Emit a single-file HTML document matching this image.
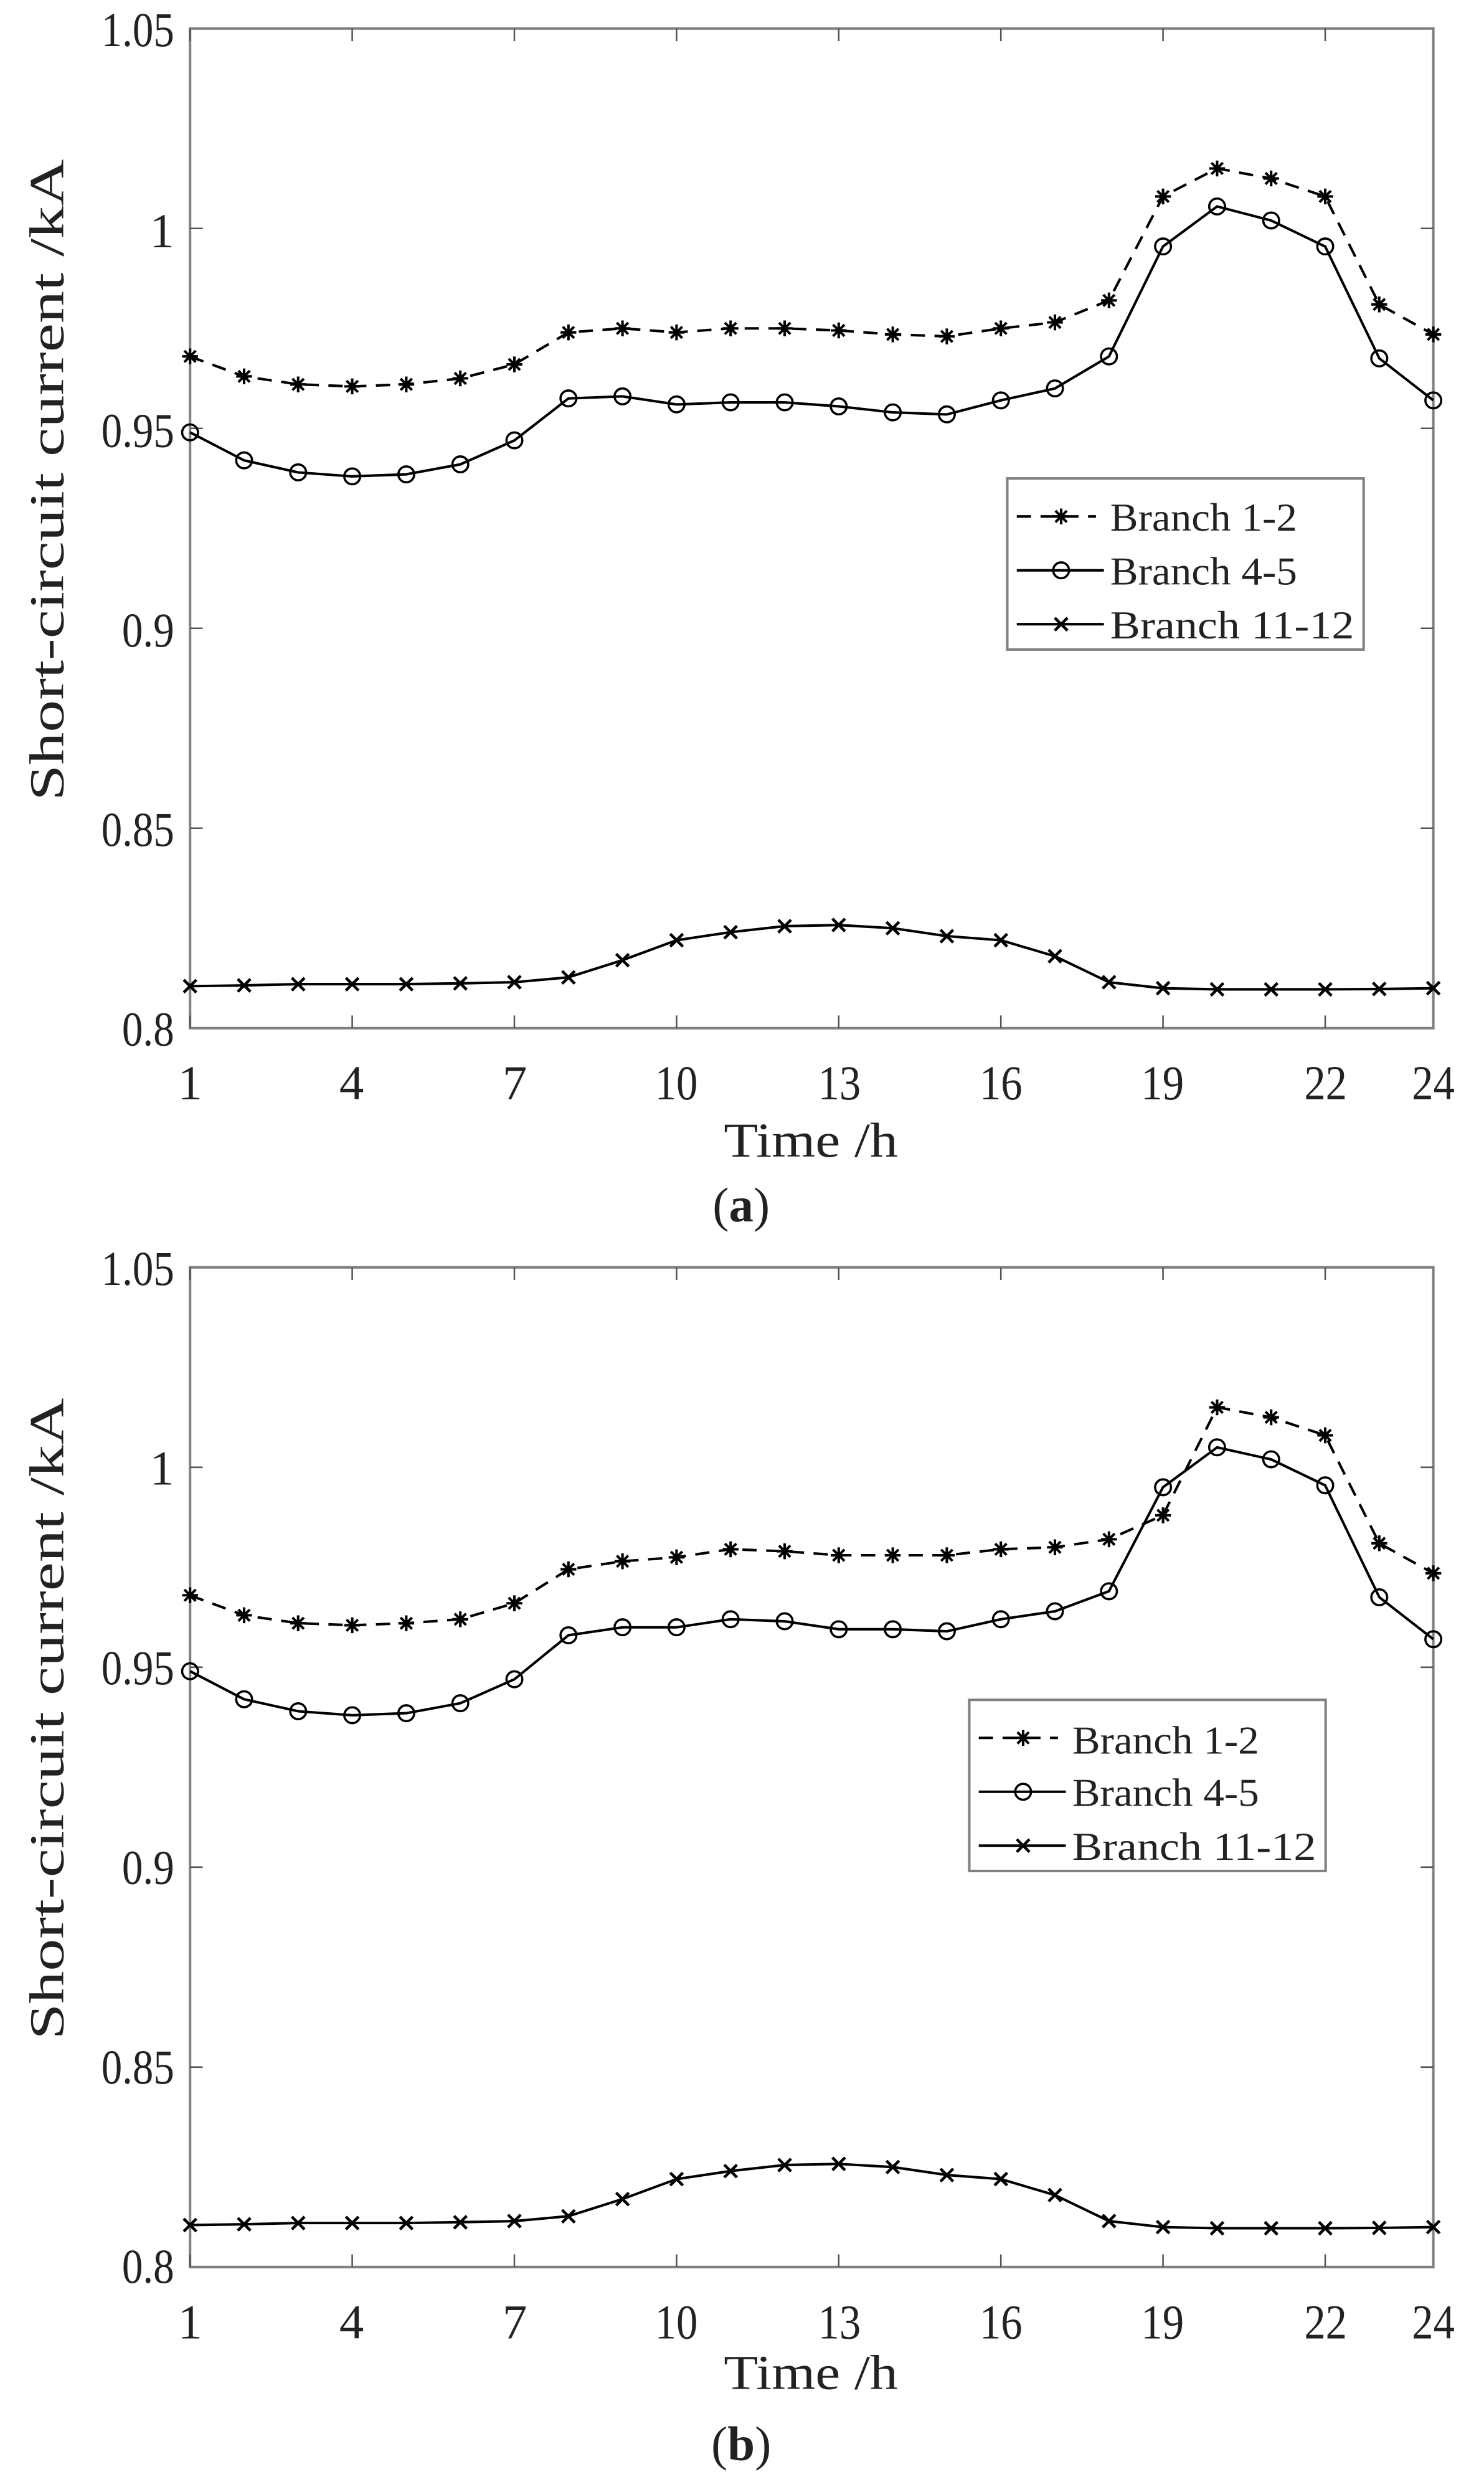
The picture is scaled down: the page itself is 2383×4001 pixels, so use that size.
<!DOCTYPE html>
<html><head><meta charset="utf-8"><style>
html,body{margin:0;padding:0;background:#fff}
svg{display:block}
text{font-family:"Liberation Serif",serif;fill:#222}
</style></head><body>
<svg id="s" width="2383" height="4001" viewBox="0 0 937 1573" preserveAspectRatio="none" xmlns="http://www.w3.org/2000/svg">
<rect width="937" height="1573" fill="#fff"/>
<g id="ga"></g><g id="gb"></g>
<!-- (a) labels -->
<g font-size="31" text-anchor="end">
<text x="110" y="29" textLength="46" lengthAdjust="spacingAndGlyphs">1.05</text>
<text x="110" y="156">1</text>
<text x="110" y="282" textLength="46" lengthAdjust="spacingAndGlyphs">0.95</text>
<text x="110" y="408" textLength="33" lengthAdjust="spacingAndGlyphs">0.9</text>
<text x="110" y="534" textLength="46" lengthAdjust="spacingAndGlyphs">0.85</text>
<text x="110" y="660" textLength="33" lengthAdjust="spacingAndGlyphs">0.8</text>
</g>
<g font-size="31" text-anchor="middle">
<text x="120" y="694">1</text><text x="222" y="694">4</text><text x="325" y="694">7</text>
<text x="427" y="694" textLength="27" lengthAdjust="spacingAndGlyphs">10</text><text x="530" y="694" textLength="27" lengthAdjust="spacingAndGlyphs">13</text>
<text x="632" y="694" textLength="27" lengthAdjust="spacingAndGlyphs">16</text><text x="734" y="694" textLength="27" lengthAdjust="spacingAndGlyphs">19</text>
<text x="837" y="694" textLength="27" lengthAdjust="spacingAndGlyphs">22</text><text x="905" y="694" textLength="27" lengthAdjust="spacingAndGlyphs">24</text>
<text x="512" y="730" textLength="110" lengthAdjust="spacingAndGlyphs">Time /h</text>
<text x="468" y="771">(<tspan font-weight="bold">a</tspan>)</text>
<text transform="translate(40,303) rotate(-90)" textLength="405" lengthAdjust="spacingAndGlyphs">Short-circuit current /kA</text>
</g>
<!-- (b) labels -->
<g font-size="31" text-anchor="end">
<text x="110" y="811" textLength="46" lengthAdjust="spacingAndGlyphs">1.05</text>
<text x="110" y="937">1</text>
<text x="110" y="1063" textLength="46" lengthAdjust="spacingAndGlyphs">0.95</text>
<text x="110" y="1189" textLength="33" lengthAdjust="spacingAndGlyphs">0.9</text>
<text x="110" y="1315" textLength="46" lengthAdjust="spacingAndGlyphs">0.85</text>
<text x="110" y="1441" textLength="33" lengthAdjust="spacingAndGlyphs">0.8</text>
</g>
<g font-size="31" text-anchor="middle">
<text x="120" y="1476">1</text><text x="222" y="1476">4</text><text x="325" y="1476">7</text>
<text x="427" y="1476" textLength="27" lengthAdjust="spacingAndGlyphs">10</text><text x="530" y="1476" textLength="27" lengthAdjust="spacingAndGlyphs">13</text>
<text x="632" y="1476" textLength="27" lengthAdjust="spacingAndGlyphs">16</text><text x="734" y="1476" textLength="27" lengthAdjust="spacingAndGlyphs">19</text>
<text x="837" y="1476" textLength="27" lengthAdjust="spacingAndGlyphs">22</text><text x="905" y="1476" textLength="27" lengthAdjust="spacingAndGlyphs">24</text>
<text x="512" y="1508" textLength="110" lengthAdjust="spacingAndGlyphs">Time /h</text>
<text x="468" y="1553">(<tspan font-weight="bold">b</tspan>)</text>
<text transform="translate(40,1085) rotate(-90)" textLength="405" lengthAdjust="spacingAndGlyphs">Short-circuit current /kA</text>
</g>
<!-- legends -->
<g font-size="25">
<text x="701" y="335" textLength="118" lengthAdjust="spacingAndGlyphs">Branch 1-2</text>
<text x="701" y="369" textLength="118" lengthAdjust="spacingAndGlyphs">Branch 4-5</text>
<text x="701" y="403" textLength="154" lengthAdjust="spacingAndGlyphs">Branch 11-12</text>
<text x="677" y="1107" textLength="118" lengthAdjust="spacingAndGlyphs">Branch 1-2</text>
<text x="677" y="1140" textLength="118" lengthAdjust="spacingAndGlyphs">Branch 4-5</text>
<text x="677" y="1174" textLength="154" lengthAdjust="spacingAndGlyphs">Branch 11-12</text>
</g>
</svg>
<script>
var NS="http://www.w3.org/2000/svg";
function el(p,t,a){var e=document.createElementNS(NS,t);for(var k in a)e.setAttribute(k,a[k]);p.appendChild(e);return e;}
var L=120,R=905;
function X(h){return L+(h-1)*(R-L)/23;}
var b12a=[.968,.963,.961,.9605,.961,.9625,.966,.974,.975,.974,.975,.975,.9745,.9735,.973,.975,.9765,.982,1.008,1.015,1.0125,1.008,.981,.9735];
var b45a=[.949,.942,.939,.938,.9385,.941,.947,.9575,.958,.956,.9565,.9565,.9555,.954,.9535,.957,.96,.968,.9955,1.0055,1.002,.9955,.9675,.957];
var b11=[.8105,.8107,.811,.811,.811,.8112,.8115,.8127,.817,.822,.824,.8255,.8258,.825,.823,.822,.818,.8115,.810,.8097,.8097,.8097,.8098,.810];
var b12b=[.968,.963,.961,.9605,.961,.962,.966,.9745,.9765,.9775,.9795,.979,.978,.978,.978,.9795,.98,.982,.988,1.015,1.0125,1.008,.981,.9735];
var b45b=[.949,.942,.939,.938,.9385,.941,.947,.958,.960,.960,.962,.9615,.9595,.9595,.959,.962,.964,.969,.995,1.005,1.002,.9955,.9675,.957];
function star(g,x,y){var r=5;el(g,"path",{d:"M"+(x-r)+" "+y+"H"+(x+r)+"M"+x+" "+(y-r)+"V"+(y+r)+"M"+(x-3.6)+" "+(y-3.6)+"L"+(x+3.6)+" "+(y+3.6)+"M"+(x-3.6)+" "+(y+3.6)+"L"+(x+3.6)+" "+(y-3.6),stroke:"#000","stroke-width":1.6,fill:"none"});}
function circ(g,x,y){el(g,"circle",{cx:x,cy:y,r:5,fill:"none",stroke:"#000","stroke-width":1.4});}
function cross(g,x,y){var r=4;el(g,"path",{d:"M"+(x-r)+" "+(y-r)+"L"+(x+r)+" "+(y+r)+"M"+(x-r)+" "+(y+r)+"L"+(x+r)+" "+(y-r),stroke:"#000","stroke-width":1.8,fill:"none"});}
function series(g,d,Y,dash,mk){var p="";d.forEach(function(v,i){p+=(i?"L":"M")+X(i+1).toFixed(1)+" "+Y(v).toFixed(1);});
 var a={d:p,fill:"none",stroke:"#000","stroke-width":1.6};if(dash)a["stroke-dasharray"]="9 6";el(g,"path",a);
 d.forEach(function(v,i){mk(g,X(i+1),Y(v));});}
function plot(id,top,b12,b45,leg){
 var g=document.getElementById(id),bot=top+631;
 var Y=function(v){return bot-(v-0.8)/0.25*631;};
 var ax={stroke:"#808080","stroke-width":1.6,fill:"none"};
 el(g,"rect",{x:L,y:top,width:R-L,height:bot-top,stroke:"#808080","stroke-width":1.6,fill:"none"});
 var t="";[1,4,7,10,13,16,19,22].forEach(function(h){var x=X(h);t+="M"+x+" "+bot+"V"+(bot-8)+"M"+x+" "+top+"V"+(top+8);});
 for(var k=1;k<5;k++){var y=top+k*631/5;t+="M"+L+" "+y+"H"+(L+8)+"M"+R+" "+y+"H"+(R-8);}
 el(g,"path",{d:t,stroke:"#555","stroke-width":1,fill:"none"});
 series(g,b11,Y,false,cross);series(g,b45,Y,false,circ);series(g,b12,Y,true,star);
 el(g,"rect",{x:leg[0],y:leg[1],width:225,height:108,fill:"#fff",stroke:"#808080","stroke-width":1.6});
 var lx=leg[0]+6,ys=[leg[1]+24,leg[1]+58,leg[1]+92],mx=lx+28;
 el(g,"path",{d:"M"+lx+" "+ys[0]+"H"+(lx+50),stroke:"#000","stroke-width":1.6,"stroke-dasharray":"9 6"});star(g,mx,ys[0]);
 el(g,"path",{d:"M"+lx+" "+ys[1]+"H"+(lx+55),stroke:"#000","stroke-width":1.6});circ(g,mx,ys[1]);
 el(g,"path",{d:"M"+lx+" "+ys[2]+"H"+(lx+55),stroke:"#000","stroke-width":1.6});cross(g,mx,ys[2]);
}
plot("ga",18,b12a,b45a,[636,302]);
plot("gb",800,b12b,b45b,[612,1073]);
</script>
</body></html>
